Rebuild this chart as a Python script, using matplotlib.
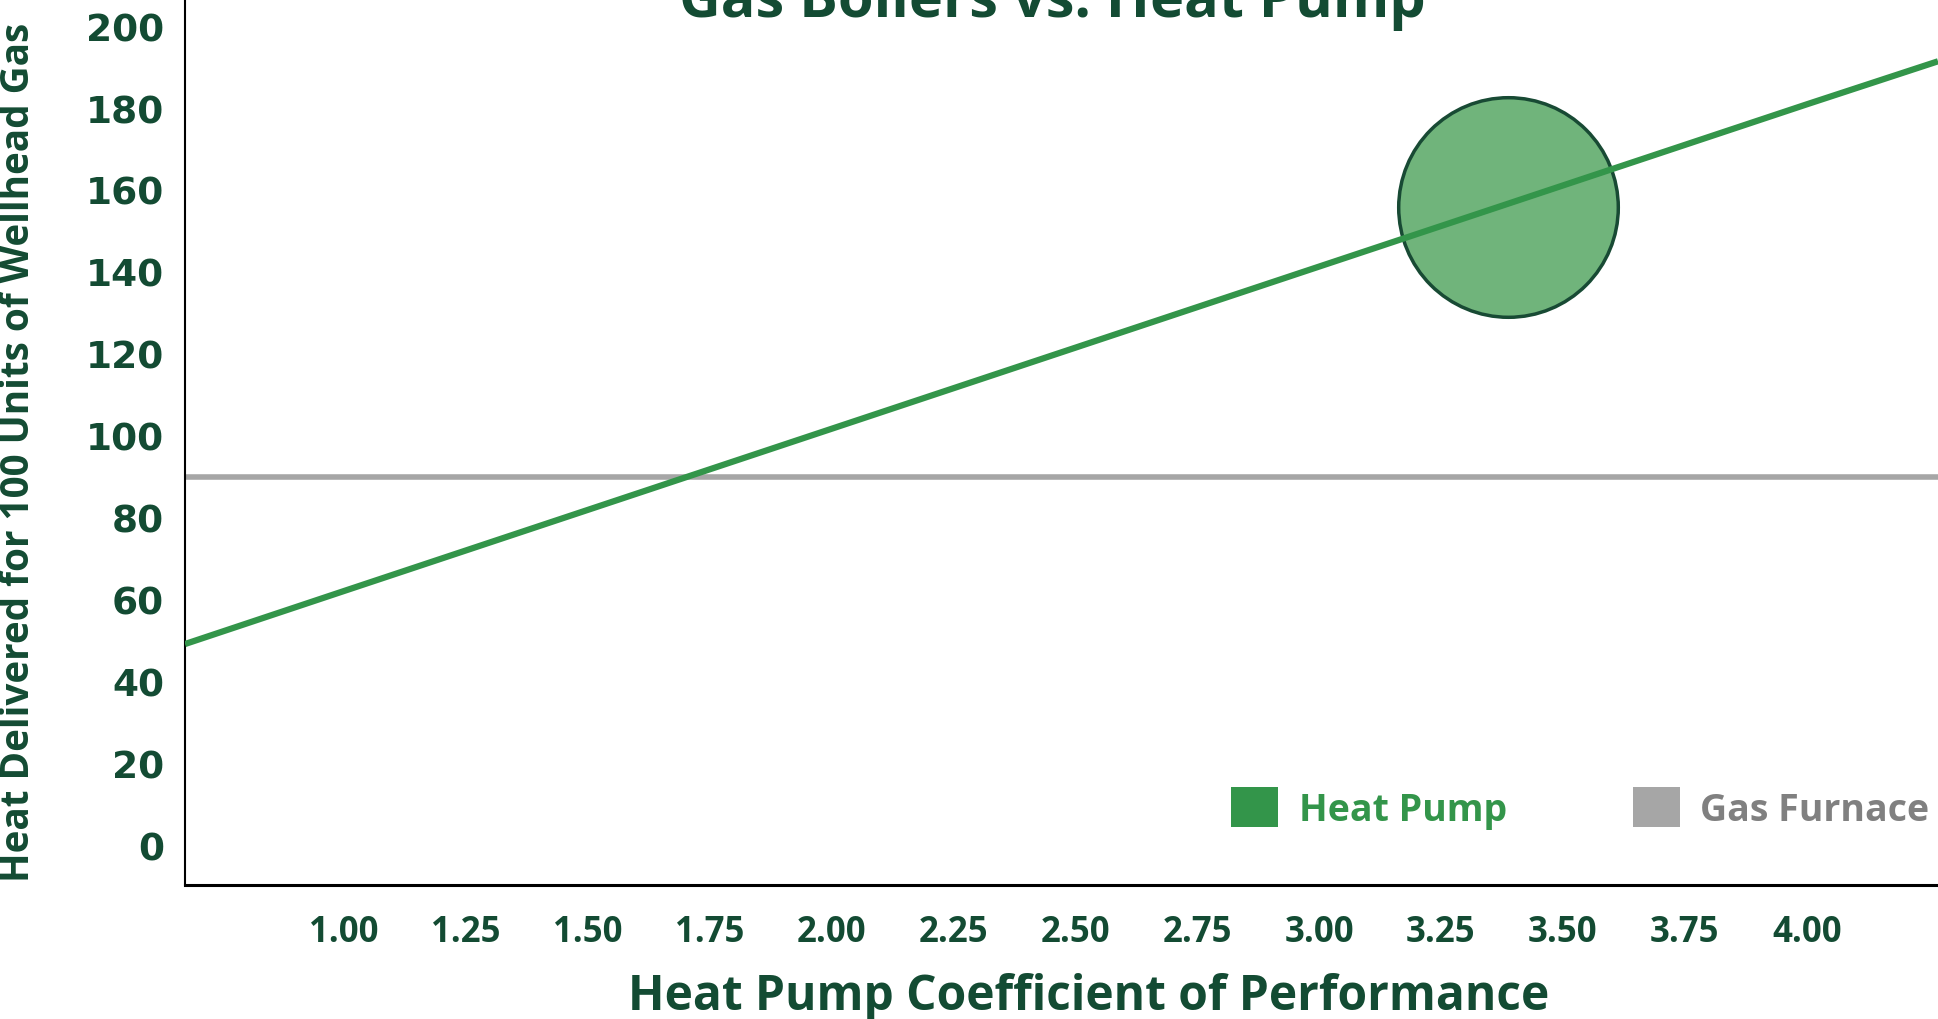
import matplotlib
matplotlib.use("Agg")
import matplotlib.pyplot as plt
from matplotlib.patches import Patch

# ---- data ----
cop = [0.675, 1.00, 1.25, 1.50, 1.75, 2.00, 2.25, 2.50, 2.75, 3.00, 3.25, 3.50, 3.75, 4.00, 4.269]
heat_pump = [49.2, 62.1, 72.0, 81.9, 91.8, 101.7, 111.6, 121.5, 131.4, 141.3, 151.2, 161.1, 171.0, 180.9, 191.4]
gas_furnace = [90] * len(cop)
bubble_cop = [3.387]
bubble_heat = [155.8]
x_ticks = [1.00, 1.25, 1.50, 1.75, 2.00, 2.25, 2.50, 2.75, 3.00, 3.25, 3.50, 3.75, 4.00]
x_tick_labels = ["1.00", "1.25", "1.50", "1.75", "2.00", "2.25", "2.50", "2.75", "3.00", "3.25", "3.50", "3.75", "4.00"]
y_ticks = [0, 20, 40, 60, 80, 100, 120, 140, 160, 180, 200]

DARK = "#134b33"
GREEN = "#33954a"
BUBBLE = "#70b47b"
GRAY = "#a6a6a6"
SANS = ["Open Sans", "DejaVu Sans"]

fig = plt.figure(figsize=(19.38, 10.20), dpi=100)
ax = fig.add_axes([185 / 1938, 1 - 886 / 1020, 1 - 185 / 1938, 886 / 1020])

ax.plot(cop, gas_furnace, color=GRAY, lw=4, solid_capstyle="butt", zorder=2)
ax.scatter(bubble_cop, bubble_heat, s=25000, color=BUBBLE, edgecolor="#184a34", linewidth=2.5, zorder=3)
ax.plot(cop, heat_pump, color=GREEN, lw=4.5, solid_capstyle="butt", zorder=4)

ax.set_xlim(0.675, 4.269)
ax.set_ylim(-9.6, 206.6)
ax.set_xticks(x_ticks)
ax.set_xticklabels(x_tick_labels)
ax.set_yticks(y_ticks)
ax.tick_params(length=0)
ax.tick_params(axis="y", pad=15)
ax.tick_params(axis="x", pad=21)
for lab in ax.get_yticklabels():
    lab.set_fontfamily("DejaVu Sans")
    lab.set_fontweight("bold")
    lab.set_fontsize(27)
    lab.set_color(DARK)
for lab in ax.get_xticklabels():
    lab.set_fontfamily(SANS)
    lab.set_fontweight("bold")
    lab.set_fontsize(25)
    lab.set_color(DARK)

for s in ["top", "right"]:
    ax.spines[s].set_visible(False)
ax.spines["left"].set_linewidth(1.5)
ax.spines["left"].set_color("black")
ax.spines["bottom"].set_linewidth(2.2)
ax.spines["bottom"].set_color("black")

ax.set_xlabel("Heat Pump Coefficient of Performance", fontsize=34.5, fontweight="bold",
              color=DARK, family=SANS, labelpad=16)
ax.xaxis.label.set_x((1089 - 185) / 1753)
fig.text(19 / 1938, 1 - 452 / 1020, "Heat Delivered for 100 Units of Wellhead Gas", rotation=90,
         ha="center", va="center", fontsize=27.8, fontweight="bold", color=DARK, family=SANS)
fig.text(1052 / 1938, 1 - 17 / 1020, "Gas Boilers vs. Heat Pump", ha="center", va="baseline",
         fontsize=41.5, fontweight="bold", color=DARK, family=SANS)

handles = [Patch(facecolor=GREEN, edgecolor="none"), Patch(facecolor=GRAY, edgecolor="none")]
leg = ax.legend(handles, ["Heat Pump", "Gas Furnace"], ncol=2, frameon=False,
                loc="center left", bbox_to_anchor=(1231 / 1938, 1 - 809 / 1020),
                bbox_transform=fig.transFigure, prop={"family": SANS, "weight": "bold", "size": 27},
                handlelength=1.25, handleheight=1.25, handletextpad=0.56, columnspacing=3.35,
                borderaxespad=0, borderpad=0)
leg.get_texts()[0].set_color(GREEN)
leg.get_texts()[1].set_color("#808080")

fig.savefig("out.png", dpi=100)
